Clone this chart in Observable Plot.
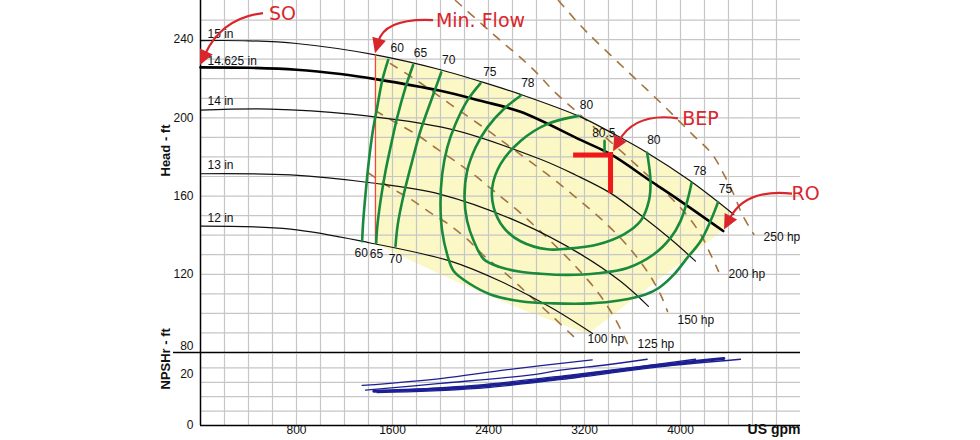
<!DOCTYPE html>
<html><head><meta charset="utf-8">
<script src="https://cdn.jsdelivr.net/npm/d3@7"></script>
<script src="https://cdn.jsdelivr.net/npm/@observablehq/plot@0.6"></script>
<style>
html,body{margin:0;padding:0;background:#fff;}
#chart svg{display:block;}
</style></head><body><div id="chart"></div>
<script>
// ---------- data (US gpm, ft) ----------
const xGridValues = d3.range(200, 5000, 200);
const headGridValues = d3.range(90, 260, 10);
const npshGridValues = [5, 10, 15, 20];
const xTickLabels = [800, 1600, 2400, 3200, 4000];
const headTickLabels = [120, 160, 200, 240];
const headTickLow = [80];

const minFlowGpm = 1458;
const minFlowHead = [232.2, 135.6];

// impeller head curves
const impNames = ["15 in", "14.625 in", "14 in", "13 in", "12 in"];
const imp15 = [[0,239.5],[400,239.4],[800,238.0],[1458,232.2],[2000,224.6],[2333,218.6],[2667,212.0],[3167,200.5],[3442,191.8],[3722,182.2],[4083,167.7],[4444,150.6]];
const imp14625 = [[0,225.8],[400,225.6],[800,224.6],[1167,222.4],[1458,219.8],[2000,213.8],[2333,208.7],[2667,203.1],[3167,188.7],[3417,181.4],[3750,167.7],[4000,157.4],[4356,142.1]];
const imp14 = [[0,203.9],[583,204.5],[1250,201.9],[2083,194.2],[2833,178.8],[3125,170.8],[3417,161.5],[3667,150.3],[3917,138.0],[4125,126.7]];
const imp13 = [[0,171.4],[750,170.8],[1417,166.8],[2000,160.9],[2667,146.3],[3167,130.3],[3500,116.4],[3733,103.6]];
const imp12 = [[0,144.6],[750,143.1],[1417,136.0],[2083,126.7],[2500,116.4],[2917,103.1],[3267,89.7]];
const impLabelAt = [[58,242.6],[58,229.2],[58,208.7],[58,175.9],[58,148.7]];

// preferred region (yellow) lower boundary, after the 15 in curve
const yellowEdge = [[4356,142.1],[3233,89.2],[2667,102.1],[2083,117.4],[1458,135.4]];

// iso-efficiency contours (%)
const eff60 = [[1564,229.6],[1514,219.0],[1472,205.3],[1436,193.3],[1403,178.0],[1375,160.9],[1356,147.2],[1347,136.9]];
const eff65 = [[1772,227.0],[1708,215.5],[1639,200.2],[1583,184.8],[1542,172.8],[1500,157.4],[1472,143.7],[1464,136.0]];
const eff70 = [[2006,223.2],[1931,210.4],[1833,193.3],[1764,177.9],[1694,160.9],[1644,145.5],[1625,134.4]];
const eff75 = [[2333,217.6],[2222,208.7],[2125,196.8],[2056,184.8],[2014,171.1],[2000,155.7],[2014,142.1],[2056,130.1],[2111,121.5],[2250,114.9],[2417,109.7],[2667,106.2],[2942,105.1],[3250,105.1],[3500,106.7],[3708,109.7],[3819,113.0],[3944,119.8],[4056,128.4],[4167,136.9],[4250,147.2],[4313,156.9]];
const eff78 = [[2667,211.3],[2528,204.5],[2389,195.0],[2292,184.8],[2222,172.8],[2200,159.1],[2222,147.2],[2278,136.9],[2361,127.7],[2500,123.6],[2667,121.3],[2833,120.3],[3058,119.7],[3308,120.5],[3558,123.2],[3775,130.1],[3917,138.6],[4000,147.2],[4056,157.4],[4092,166.7]];
const eff80 = [[3150,201.0],[2889,196.8],[2667,188.2],[2500,176.3],[2431,164.3],[2444,154.0],[2528,143.7],[2667,136.9],[2889,132.8],[3058,133.1],[3308,135.2],[3528,140.4],[3667,147.2],[3736,157.4],[3750,167.7],[3722,182.1]];
const eff805 = [[3367,188.2],[3367,182.2]];
const effLabelText = ["60","65","70","75","78","80","80.5","80","78","75","60","65","70"];
const effLabelAt = [[1639,235.7],[1833,233.2],[2069,229.7],[2411,223.6],[2728,217.8],[3217,206.7],[3361,192.0],[3778,188.6],[4161,172.5],[4375,163.4],[1339,130.9],[1467,130.1],[1625,127.8]];

// constant power lines (hp)
const hp250 = [[2983,260],[3167,247.2],[3306,238.6],[3569,223.2],[3847,207.0],[4111,190.8],[4264,181.4],[4361,171.1],[4444,160.9],[4514,150.6],[4611,140.4]];
const hp200 = [[2125,260],[2358,247.2],[2500,239.5],[2667,230.8],[2808,222.6],[2942,213.8],[3192,200.0],[3567,179.5],[3792,166.7],[4025,152.3],[4167,140.5],[4250,130.3],[4317,121.5]];
const hp150 = [[1583,227.7],[1764,220.7],[1900,214.9],[2125,205.1],[2375,194.4],[2625,183.1],[2875,171.8],[3125,159.5],[3375,146.2],[3583,132.8],[3733,120.5],[3833,109.7],[3892,101.0]];
const hp125 = [[1458,203.6],[1625,197.6],[1817,190.8],[1972,184.1],[2139,177.1],[2292,170.3],[2444,162.6],[2667,151.3],[2900,138.0],[3125,124.1],[3317,110.3],[3458,96.9],[3558,84.6]];
const hp100 = [[1400,171.8],[1583,164.3],[1750,158.5],[1917,151.4],[2067,145.6],[2222,138.0],[2358,129.7],[2542,120.5],[2750,108.7],[2942,97.9],[3108,88.2]];
const hpLabelText = ["250 hp","200 hp","150 hp","125 hp","100 hp"];
const hpLabelAt = [[4692,139.0],[4400,120.0],[3975,96.4],[3642,84.1],[3225,86.7]];

// best efficiency point
const bep = [3417, 181.0];
const bepCrossLeft = 3130;
const bepCrossLow = 162.6;

// annotations
const annoText = ["SO", "Min. Flow", "BEP", "RO"];
const annoTextAt = [[683,253.0],[2333,249.7],[4167,199.5],[5042,160.9]];
const annoTail = [[525,253.3],[1942,249.7],[3983,199.5],[4933,161.0]];
const annoCtrl = [[183,250.8],[1542,250.8],[3625,202.6],[4542,163.6]];
const annoTip = [[0,226.7],[1458,232.8],[3442,182.6],[4367,142.6]];

// NPSHr curves (ft)
const npsh12 = [[1347,13.9],[2000,16.3],[2556,19.4],[3264,22.8]];
const npsh13 = [[1375,12.3],[2000,14.6],[2778,17.7],[3000,19.2],[3389,21.1],[3722,23.0]];
const npsh14 = [[1500,11.9],[2278,13.9],[3111,17.7],[3667,20.5],[4125,23.0]];
const npsh14625 = [[1444,11.9],[2278,13.4],[3111,17.1],[3806,20.8],[4361,23.3]];
const npsh15 = [[1472,11.4],[2278,12.8],[3111,16.5],[3806,20.3],[4500,23.0]];
const npshTickZero = [0];
const npshTickUpper = [20];

// ---------- helpers ----------
const RED = "#d9262c", GREEN = "#19893c", BROWN = "#a3743f", NAVY = "#1c1f92", GRID = "#c6c6c6";
const FONT = "Liberation Sans, Arial, sans-serif";
const toRows = (series) => series.flatMap(([name, pts]) => pts.map(([gpm, v]) => ({name, gpm, v})));

const impRows = toRows([["15",imp15],["14",imp14],["13",imp13],["12",imp12]]);
const impThick = toRows([["14.625",imp14625]]);
const effRows = toRows([["60",eff60],["65",eff65],["70",eff70],["75",eff75],["78",eff78],["80",eff80],["80.5",eff805]]);
const hpRows = toRows([["250",hp250],["200",hp200],["150",hp150],["125",hp125],["100",hp100]]);
const npshThin = toRows([["12",npsh12],["13",npsh13],["14",npsh14],["15",npsh15]]);
const npshThick = toRows([["14.625",npsh14625]]);

function yellowRegion(index, scales) {
  const x = scales.x, y = scales.y;
  const top = imp15.filter(d => d[0] >= minFlowGpm);
  const line = d3.line().x(d => x(d[0])).y(d => y(d[1])).curve(d3.curveCatmullRom);
  const p = line(top) + yellowEdge.map(d => `L${x(d[0])},${y(d[1])}`).join("") + "Z";
  return d3.create("svg:path").attr("d", p).attr("fill", "#fbf8c6").node();
}

function annoArrows(index, scales) {
  const x = scales.x, y = scales.y;
  const g = d3.create("svg:g");
  annoTip.forEach((tipD, i) => {
    const t = [x(annoTail[i][0]), y(annoTail[i][1])];
    const c = [x(annoCtrl[i][0]), y(annoCtrl[i][1])];
    const p = [x(tipD[0]), y(tipD[1])];
    const dx = p[0] - c[0], dy = p[1] - c[1], L = Math.hypot(dx, dy), ux = dx / L, uy = dy / L;
    const hl = 15, hw = 7;
    const bx = p[0] - ux * hl, by = p[1] - uy * hl;
    g.append("path").attr("fill", "none").attr("stroke", RED).attr("stroke-width", 2.2)
      .attr("d", `M${t[0]},${t[1]}Q${c[0]},${c[1]} ${bx + ux * 3},${by + uy * 3}`);
    g.append("path").attr("fill", RED)
      .attr("d", `M${p[0]},${p[1]}L${bx - uy * hw},${by + ux * hw}L${bx + uy * hw},${by - ux * hw}Z`);
  });
  return g.node();
}

// ---------- head chart ----------
const head = Plot.plot({
  width: 980, height: 353,
  marginLeft: 200, marginRight: 180, marginTop: 0, marginBottom: 1,
  x: {domain: [0, 5000], axis: null},
  y: {domain: [80, 260], axis: null},
  style: {fontFamily: FONT, fontSize: "12px", background: "#fff", overflow: "visible"},
  marks: [
    yellowRegion,
    Plot.ruleX(xGridValues, {stroke: GRID, strokeWidth: 1.2}),
    Plot.ruleY(headGridValues, {stroke: GRID, strokeWidth: 1.2}),
    Plot.line(hpRows, {x: "gpm", y: "v", z: "name", curve: "catmull-rom", stroke: BROWN, strokeWidth: 1.6, strokeDasharray: "8,9"}),
    Plot.line(impRows, {x: "gpm", y: "v", z: "name", curve: "catmull-rom", stroke: "#111", strokeWidth: 1.2}),
    Plot.line(impThick, {x: "gpm", y: "v", z: "name", curve: "catmull-rom", stroke: "#000", strokeWidth: 2.6}),
    Plot.ruleX([minFlowGpm], {y1: minFlowHead[0], y2: minFlowHead[1], stroke: "#f2473a", strokeWidth: 1.3}),
    Plot.line(effRows, {x: "gpm", y: "v", z: "name", curve: "catmull-rom", stroke: GREEN, strokeWidth: 2.6}),
    Plot.ruleY([bep], {y: d => d[1], x1: bepCrossLeft, x2: d => d[0], stroke: "#f01818", strokeWidth: 5, strokeLinecap: "square"}),
    Plot.ruleX([bep], {x: d => d[0], y1: d => d[1], y2: bepCrossLow, stroke: "#f01818", strokeWidth: 5, strokeLinecap: "square"}),
    Plot.ruleX([0], {stroke: "#000", strokeWidth: 1.5}),
    Plot.ruleY([80], {x1: -225, x2: 5000, stroke: "#000", strokeWidth: 1.5}),
    Plot.text(impNames, {x: (d, i) => impLabelAt[i][0], y: (d, i) => impLabelAt[i][1], text: d => d, textAnchor: "start", fontSize: 12, fill: "#111"}),
    Plot.text(effLabelText, {x: (d, i) => effLabelAt[i][0], y: (d, i) => effLabelAt[i][1], text: d => d, fontSize: 12, fill: "#111"}),
    Plot.text(hpLabelText, {x: (d, i) => hpLabelAt[i][0], y: (d, i) => hpLabelAt[i][1], text: d => d, textAnchor: "start", fontSize: 12, fill: "#111"}),
    Plot.text(headTickLabels, {y: d => d, text: d => String(d), frameAnchor: "left", dx: -7, textAnchor: "end", fontSize: 12, fill: "#111"}),
    Plot.text(headTickLow, {y: d => d, text: d => String(d), frameAnchor: "left", dx: -7, dy: -6, textAnchor: "end", fontSize: 12, fill: "#111"}),
    Plot.text(["Head - ft"], {frameAnchor: "left", dx: -35, rotate: -90, fontSize: 13, fontWeight: "bold", fill: "#111"}),
    annoArrows,
    Plot.text(annoText, {x: (d, i) => annoTextAt[i][0], y: (d, i) => annoTextAt[i][1], text: d => d, fontSize: 19, fill: RED, fontFamily: "DejaVu Sans, sans-serif", letterSpacing: 0.5})
  ]
});

// ---------- NPSHr chart ----------
const npsh = Plot.plot({
  width: 980, height: 87,
  marginLeft: 200, marginRight: 180, marginTop: 0, marginBottom: 15,
  x: {domain: [0, 5000], axis: null},
  y: {domain: [0, 25], axis: null},
  style: {fontFamily: FONT, fontSize: "12px", background: "#fff", overflow: "visible"},
  marks: [
    Plot.ruleX(xGridValues, {stroke: GRID, strokeWidth: 1.2}),
    Plot.ruleY(npshGridValues, {stroke: GRID, strokeWidth: 1.2}),
    Plot.line(npshThin, {x: "gpm", y: "v", z: "name", curve: "catmull-rom", stroke: NAVY, strokeWidth: 1.3}),
    Plot.line(npshThick, {x: "gpm", y: "v", z: "name", curve: "catmull-rom", stroke: NAVY, strokeWidth: 3}),
    Plot.ruleX([0], {stroke: "#000", strokeWidth: 1.5}),
    Plot.ruleY([0], {stroke: "#000", strokeWidth: 1.5}),
    Plot.text(npshTickZero, {y: d => d, text: d => String(d), frameAnchor: "left", dx: -7, textAnchor: "end", fontSize: 12, fill: "#111"}),
    Plot.text(npshTickUpper, {y: d => d, text: d => String(d), frameAnchor: "left", dx: -7, dy: 6, textAnchor: "end", fontSize: 12, fill: "#111"}),
    Plot.text(xTickLabels, {x: d => d, text: d => String(d), frameAnchor: "bottom", dy: 8, fontSize: 12, fill: "#111"}),
    Plot.text(["US gpm"], {frameAnchor: "bottom-right", dy: 8, textAnchor: "end", fontSize: 14, fontWeight: "bold", fill: "#111"}),
    Plot.text(["NPSHr - ft"], {frameAnchor: "left", dx: -35, rotate: -90, fontSize: 13, fontWeight: "bold", fill: "#111"})
  ]
});

document.getElementById("chart").append(head, npsh);
</script>
</body></html>
